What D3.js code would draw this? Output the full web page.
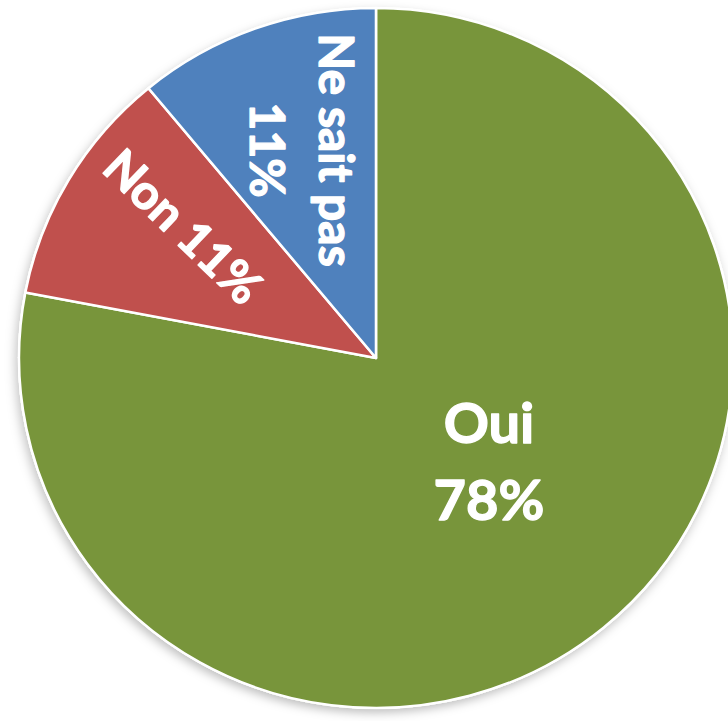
<!DOCTYPE html>
<html lang="fr">
  <head>
    <meta charset="UTF-8" />
    <title>Pie</title>
    <style>
      html, body { margin: 0; padding: 0; background: #fff; }
      .lbl {
        font-family: Lato, "Open Sans", sans-serif;
        font-weight: bold;
        fill: #fff;
        stroke: #fff;
        stroke-width: 1.3px;
        stroke-linejoin: round;
      }
    </style>
  </head>
  <body>
    <div id="app"></div>
    <script src="https://cdn.jsdelivr.net/npm/d3@7"></script>
    <script>
      // données
      const categories = ["Oui", "Non", "Ne sait pas"];
      const values = [78, 11, 11];
      const colors = ["#78953b", "#c0504d", "#4f81bd"];

      const width = 728;
      const height = 721;
      const cx = 376;
      const cy = 358;
      const radius = 350;

      const svg = d3.select("#app")
        .append("svg")
        .attr("width", width)
        .attr("height", height);

      const defs = svg.append("defs");
      const f = defs.append("filter").attr("id", "shadow")
        .attr("x", "-10%").attr("y", "-10%").attr("width", "120%").attr("height", "120%");
      f.append("feDropShadow")
        .attr("dx", -2).attr("dy", 4)
        .attr("stdDeviation", 5)
        .attr("flood-color", "#000")
        .attr("flood-opacity", 0.25);

      const data = categories.map((c, i) => ({ name: c, value: values[i], color: colors[i] }));

      const pie = d3.pie().sort(null).value(d => d.value);
      const arcs = pie(data);
      const arc = d3.arc().innerRadius(0).outerRadius(radius);

      // légèrement étiré en largeur comme l'original
      const g = svg.append("g")
        .attr("transform", `translate(${cx},${cy}) scale(1.02,1)`);

      g.append("circle")
        .attr("r", radius + 1)
        .attr("fill", "#f4f8ec")
        .attr("filter", "url(#shadow)");

      g.selectAll("path")
        .data(arcs)
        .enter()
        .append("path")
        .attr("d", arc)
        .attr("fill", d => d.data.color)
        .attr("stroke", "#fff")
        .attr("stroke-width", 2.5)
        .attr("stroke-linejoin", "round");

      // position des étiquettes : angle (en degrés depuis le haut) et rayon
      const labelArc = (a, r) => {
        const t = a * Math.PI / 180;
        return [cx + r * Math.sin(t), cy - r * Math.cos(t)];
      };
      const mid = d => (d.startAngle + d.endAngle) / 2 * 180 / Math.PI;

      const labels = svg.append("g");

      // Oui 78%
      const a0 = arcs[0];
      const p0 = labelArc(mid(a0) - 8, 153);
      const t0 = labels.append("text")
        .attr("class", "lbl")
        .attr("font-size", 56)
        .attr("text-anchor", "middle")
        .attr("transform", `translate(${p0[0]},${p0[1]})`);
      t0.append("tspan").attr("x", 0).attr("y", -18).text(a0.data.name);
      t0.append("tspan").attr("x", 0).attr("y", 59).text(a0.data.value + "%");

      // Non 11%
      const a1 = arcs[1];
      const p1 = labelArc(mid(a1) + 4, 233);
      labels.append("text")
        .attr("class", "lbl")
        .attr("font-size", 48)
        .attr("text-anchor", "middle")
        .attr("dominant-baseline", "central")
        .attr("transform", `translate(${p1[0]},${p1[1]}) rotate(44)`)
        .text(a1.data.name + " " + a1.data.value + "%");

      // Ne sait pas 11%
      const a2 = arcs[2];
      const p2 = labelArc(mid(a2), 221);
      const t2 = labels.append("text")
        .attr("class", "lbl")
        .attr("font-size", 48)
        .attr("text-anchor", "middle")
        .attr("transform", `translate(${p2[0]},${p2[1]}) rotate(90)`);
      t2.append("tspan").attr("x", 0).attr("y", -18).text(a2.data.name);
      t2.append("tspan").attr("x", 0).attr("y", 51).text(a2.data.value + "%");
    </script>
  </body>
</html>
